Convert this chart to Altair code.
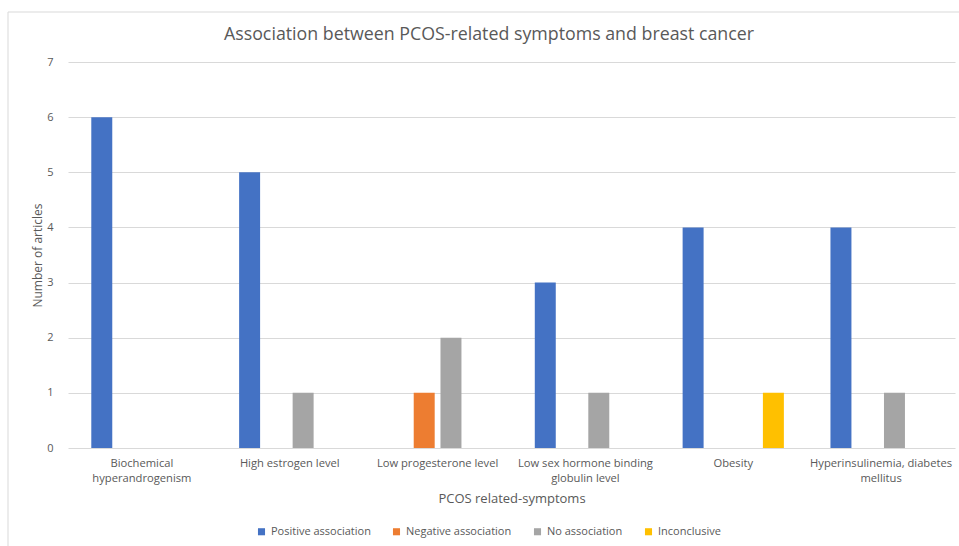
import altair as alt
import pandas as pd

title_text = "Association between PCOS-related symptoms and breast cancer"
categories = [
    "Biochemical hyperandrogenism",
    "High estrogen level",
    "Low progesterone level",
    "Low sex hormone binding globulin level",
    "Obesity",
    "Hyperinsulinemia, diabetes mellitus",
]
label_lines = [
    ["Biochemical", "hyperandrogenism"],
    ["High estrogen level"],
    ["Low progesterone level"],
    ["Low sex hormone binding", "globulin level"],
    ["Obesity"],
    ["Hyperinsulinemia, diabetes", "mellitus"],
]
series = ["Positive association", "Negative association", "No association", "Inconclusive"]
colors = ["#4472C4", "#ED7D31", "#A5A5A5", "#FFC000"]
positive = [6, 5, 0, 3, 4, 4]
negative = [0, 0, 1, 0, 0, 0]
no_assoc = [0, 1, 2, 1, 0, 1]
inconclusive = [0, 0, 0, 0, 1, 0]

rows = []
for s, vals in zip(series, [positive, negative, no_assoc, inconclusive]):
    for c, v in zip(categories, vals):
        rows.append({"Symptom": c, "Series": s, "Articles": v})
df = pd.DataFrame(rows)

# label expression for wrapped category labels
expr = "datum.label"
for c, lines in zip(categories, label_lines):
    arr = "[" + ",".join("'" + l + "'" for l in lines) + "]"
    expr = f"datum.label == '{c}' ? {arr} : ({expr})"

FONT = "Open Sans"
GREY = "#595959"

bars = alt.Chart(df).mark_bar().encode(
    x=alt.X(
        "Symptom:N",
        sort=categories,
        scale=alt.Scale(paddingInner=0.276, paddingOuter=0.138),
        axis=alt.Axis(
            title="PCOS related-symptoms",
            labelAngle=0,
            labelExpr=expr,
            labelFont=FONT,
            labelFontSize=11.2,
            labelColor=GREY,
            labelPadding=9,
            labelLineHeight=15,
            labelLimit=300,
            ticks=False,
            domain=False,
            titleFont=FONT,
            titleFontSize=13,
            titleFontWeight="normal",
            titleColor=GREY,
            titleY=50,
            titleBaseline="middle",
        ),
    ),
    xOffset=alt.XOffset(
        "Series:N",
        sort=series,
        scale=alt.Scale(paddingInner=0.216, paddingOuter=0.108),
    ),
    y=alt.Y(
        "Articles:Q",
        scale=alt.Scale(domain=[0, 7]),
        axis=alt.Axis(
            title="Number of articles",
            values=list(range(8)),
            tickCount=8,
            grid=True,
            gridColor="#d9d9d9",
            gridWidth=1,
            domain=False,
            ticks=False,
            labelFont=FONT,
            labelFontSize=11,
            labelColor=GREY,
            labelPadding=15,
            titleFont=FONT,
            titleFontSize=12,
            titleFontWeight="normal",
            titleColor=GREY,
            titleX=-31,
            titleY=193,
            titleAngle=270,
            titleAlign="center",
            titleBaseline="middle",
        ),
    ),
    color=alt.Color(
        "Series:N",
        sort=series,
        scale=alt.Scale(domain=series, range=colors),
        legend=alt.Legend(
            title=None,
            orient="none",
            direction="horizontal",
            legendX=188,
            legendY=464,
            symbolType="square",
            symbolSize=50,
            symbolStrokeWidth=0,
            labelFont=FONT,
            labelFontSize=11,
            labelColor=GREY,
            labelOffset=4,
            columnPadding=20,
        ),
    ),
)

one = pd.DataFrame({"title": [title_text]})

frame = alt.Chart(one).mark_rect(
    fill=None, stroke="#d9d9d9", strokeWidth=1
).encode(
    x=alt.value(-60), x2=alt.value(960), y=alt.value(-50), y2=alt.value(520)
)

title = alt.Chart(one).mark_text(
    font=FONT, fontSize=17.8, color=GREY, align="center", baseline="middle"
).encode(
    x=alt.value(421), y=alt.value(-27), text="title:N"
)

chart = alt.layer(frame, title, bars).properties(
    width=887,
    height=386,
    autosize=alt.AutoSizeParams(type="none"),
    padding={"left": 68, "top": 62, "right": 4, "bottom": 98},
).configure(background="white").configure_view(stroke=None)

chart.save("out.html", embed_options={"renderer": "svg", "actions": False})
